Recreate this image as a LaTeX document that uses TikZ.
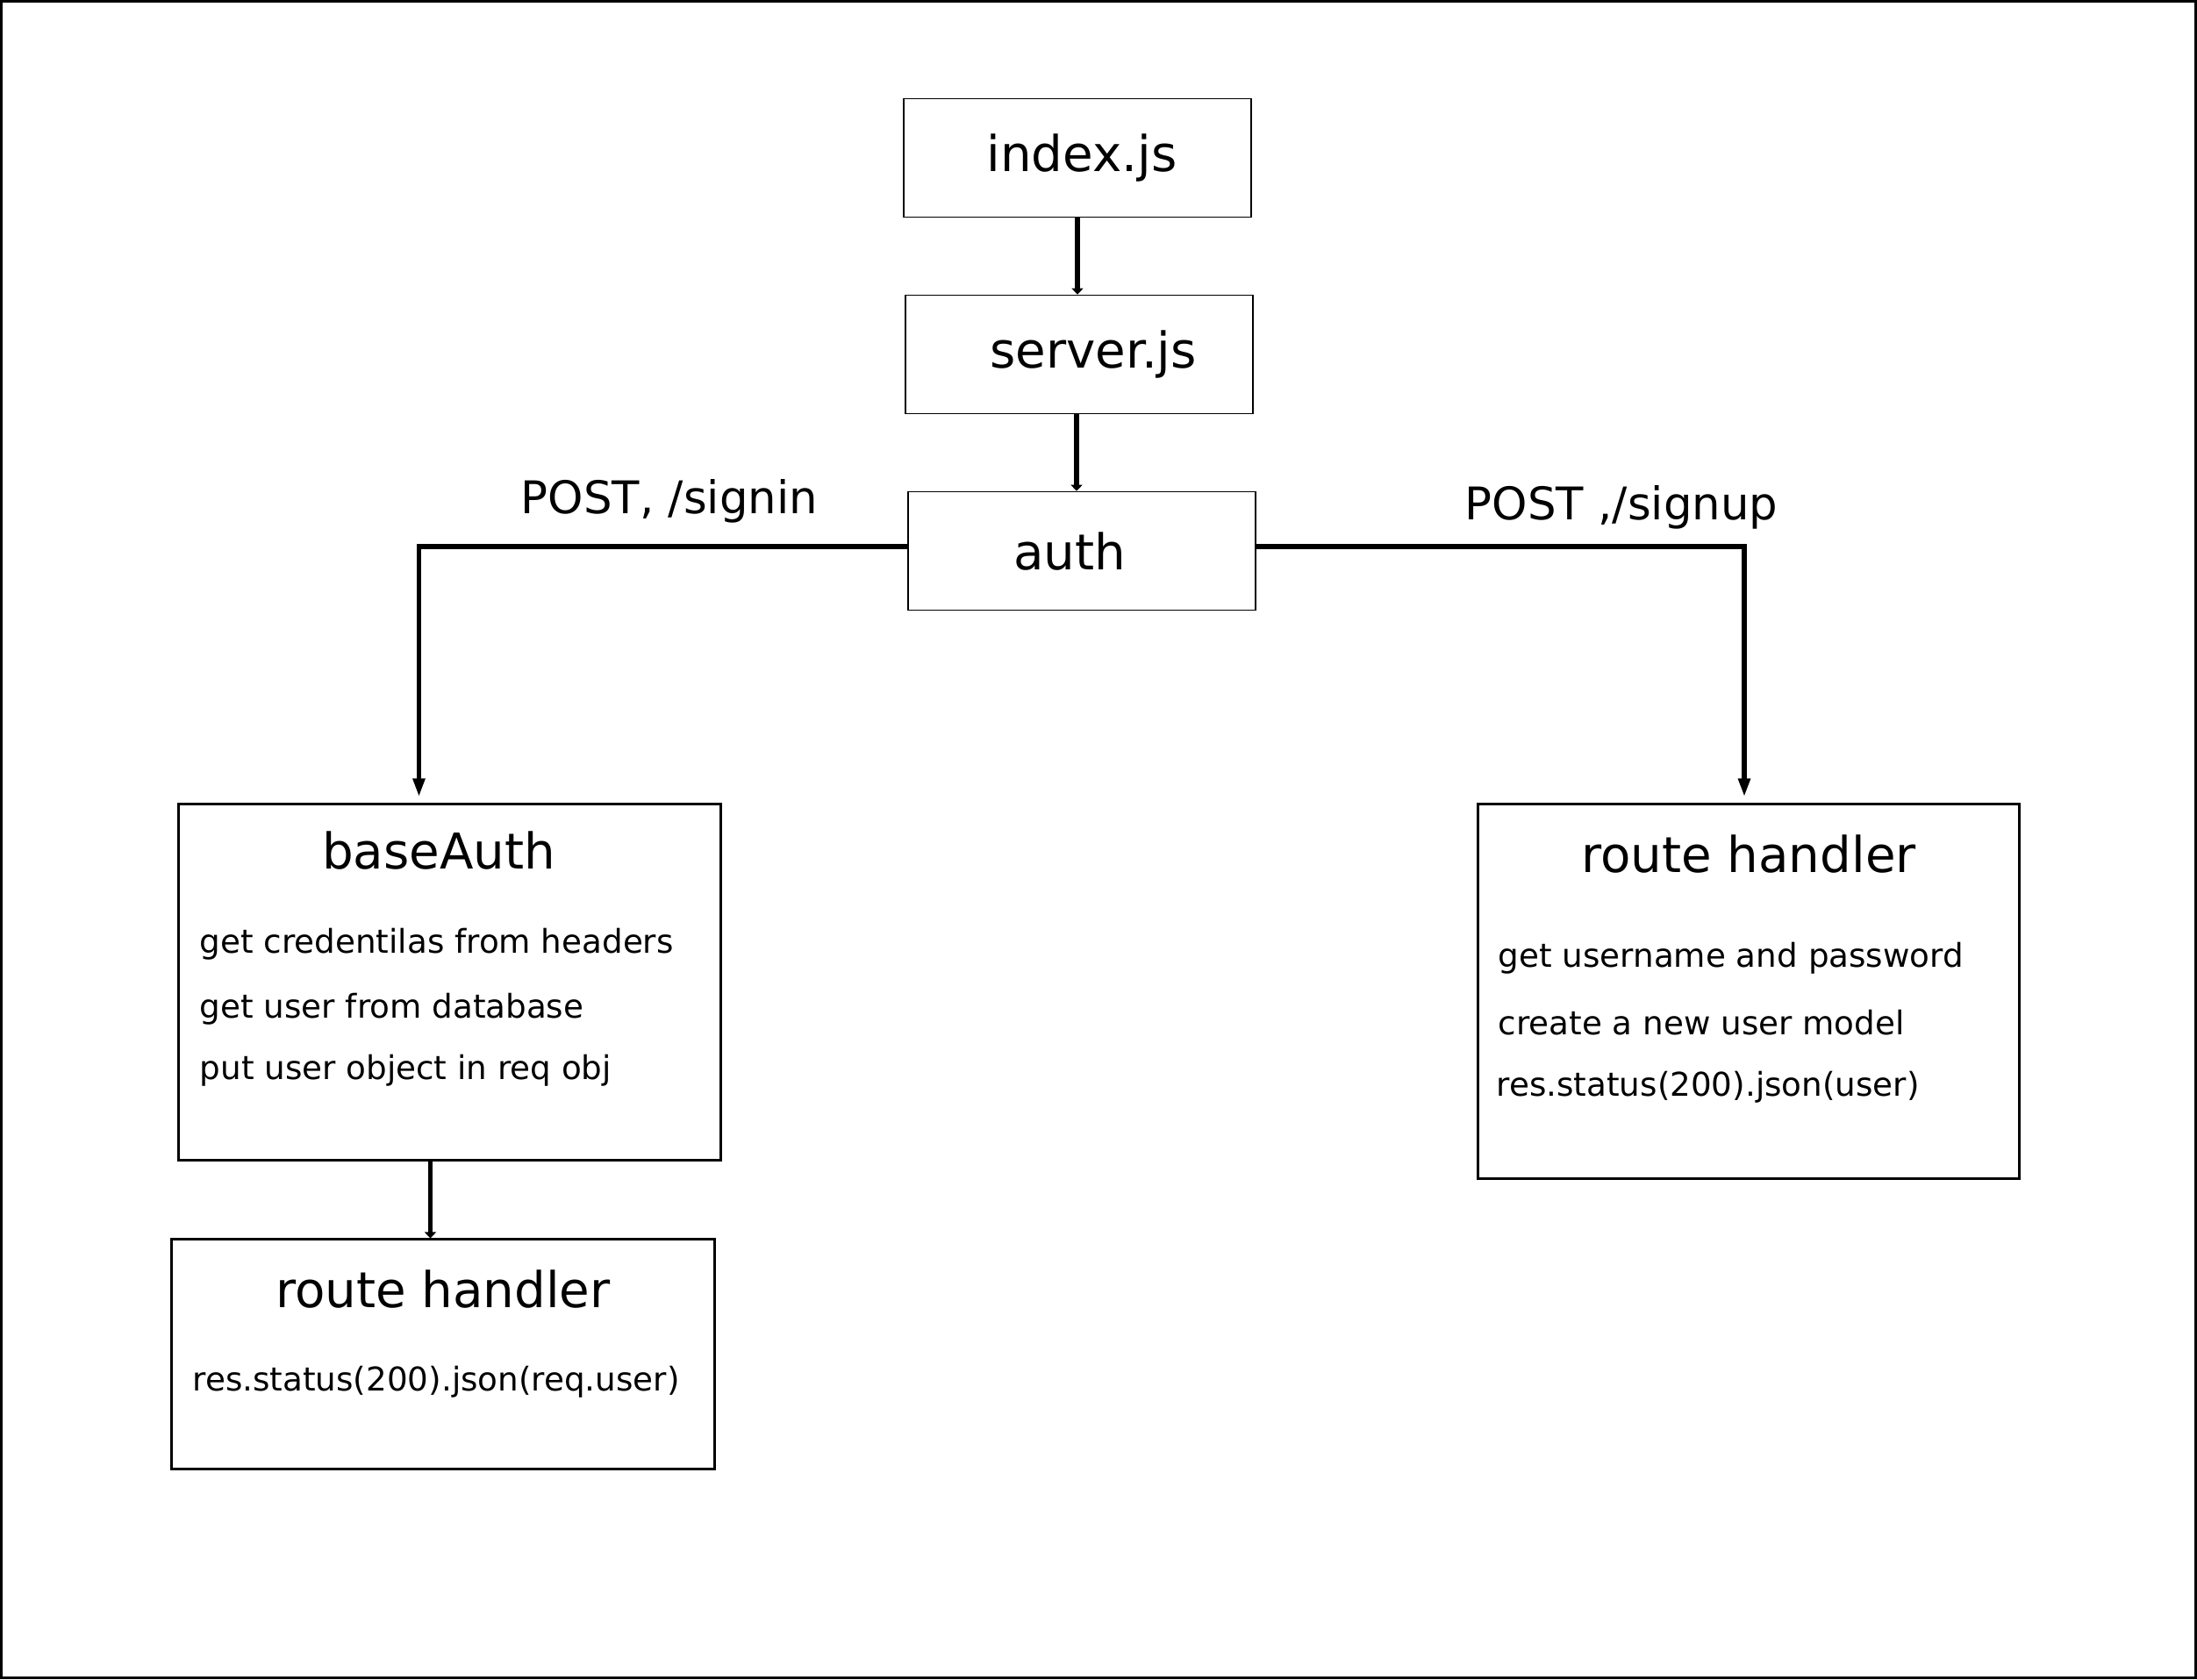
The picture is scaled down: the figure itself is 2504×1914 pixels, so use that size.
\documentclass[tikz,border=0pt]{standalone}
\usepackage{fontspec}
\setmainfont{DejaVu Sans}
\usepackage{tikz}
\usetikzlibrary{arrows.meta,positioning}
\tikzset{
  ar/.style={-{Triangle[length=2.1mm,width=1.3mm]},line width=1.6pt},
  sm/.style={-{Triangle[length=0.7mm,width=1.3mm]},line width=1.6pt},
  topbox/.style={draw,line width=0.45pt,minimum width=3.96cm,minimum height=1.35cm,inner sep=0pt,font=\fontsize{16}{19}\selectfont},
  box/.style={draw,line width=0.85pt,inner sep=0pt},
  ttl/.style={inner sep=0pt,font=\fontsize{16}{19}\selectfont},
  lbl/.style={inner sep=0pt,font=\fontsize{14.6}{17}\selectfont},
  txt/.style={inner sep=0pt,anchor=west,font=\fontsize{10.6}{13}\selectfont}
}
\begin{document}
\begin{tikzpicture}[x=0.01cm,y=-0.01cm]
\useasboundingbox (0,0) rectangle (2504,1914);
\draw[line width=0.9pt] (1.5,1.5) rectangle (2502.5,1912.5);
% entry chain
\node[topbox] (index) at (1228,180) {\kern0.1cm index.js};
\node[topbox] (server) at (1230,404) {\kern0.32cm server.js};
\node[topbox] (auth) at (1233,628) {auth\kern0.28cm\relax};
\draw[sm] (index.south) -- (index.south |- server.north);
\draw[sm] ([xshift=-0.03cm]server.south) -- ([xshift=-0.03cm]server.south |- auth.north);
% signin branch
\node[lbl] (signin) at (763,571) {POST, /signin};
\node[box,minimum width=6.17cm,minimum height=4.05cm] (baseauth) at (512.5,1119.5) {};
\node[ttl] (bat) at (500,969) {baseAuth};
\node[txt] (ba1) at (227,1076) {get credentilas from headers};
\node[txt] (ba2) at (227,1150) {get user from database};
\node[txt] (ba3) at (227,1220) {put user object in req obj};
\node[box,minimum width=6.18cm,minimum height=2.61cm] (rh1) at (505,1543.5) {};
\node[ttl] (rh1t) at (505,1469) {route handler};
\node[txt] (rh1a) at (219,1575) {res.status(200).json(req.user)};
\draw[ar,shorten >=0.07cm] ([yshift=0.05cm]auth.west) -| ([xshift=-0.35cm]baseauth.north);
\draw[sm] ([xshift=-0.22cm]baseauth.south) -- ([xshift=-0.22cm]baseauth.south |- rh1.north);
% signup branch
\node[lbl] (signup) at (1848,578) {POST ,/signup};
\node[box,minimum width=6.16cm,minimum height=4.26cm] (rh2) at (1993,1130) {};
\node[ttl] (rh2t) at (1993,973) {route handler};
\node[txt] (rh2a) at (1707,1092) {get username and password};
\node[txt] (rh2b) at (1707,1166) {create a new user model};
\node[txt] (rh2c) at (1705,1239) {res.status(200).json(user)};
\draw[ar,shorten >=0.07cm] ([yshift=0.05cm]auth.east) -| ([xshift=-0.05cm]rh2.north);
\end{tikzpicture}
\end{document}
